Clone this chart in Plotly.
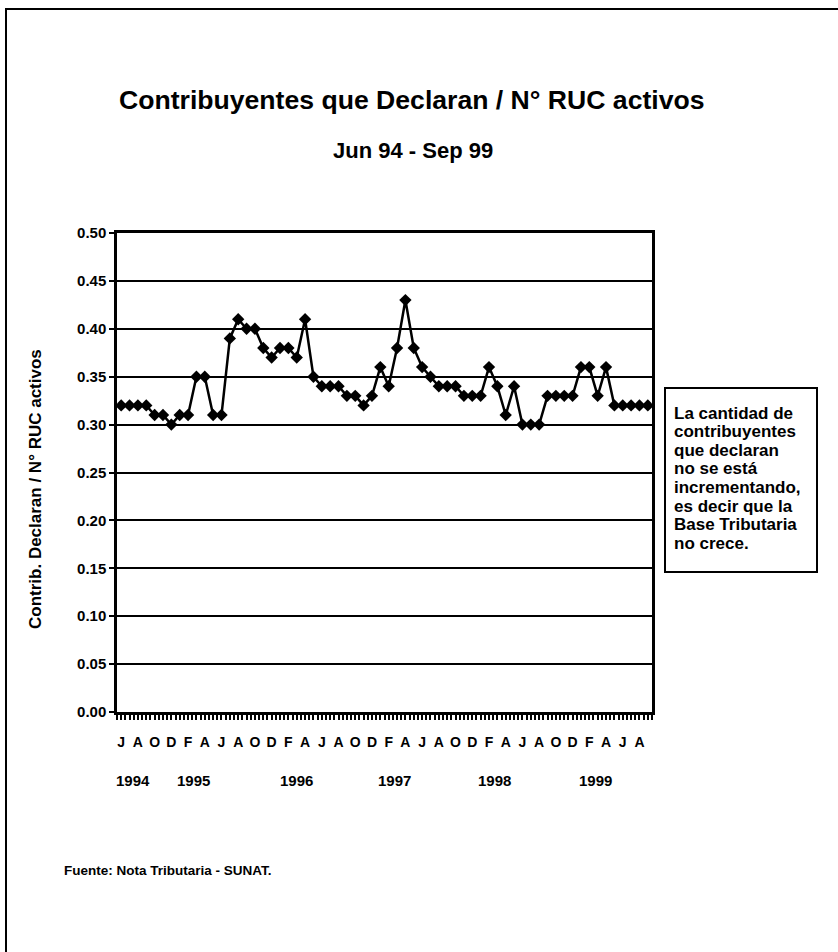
import plotly.graph_objects as go

W, H = 838, 952
# plot area in pixels
L, R, T, B = 117, 652, 233, 712

month_letters = ["J", "A", "O", "D",
                 "F", "A", "J", "A", "O", "D",
                 "F", "A", "J", "A", "O", "D",
                 "F", "A", "J", "A", "O", "D",
                 "F", "A", "J", "A", "O", "D",
                 "F", "A", "J", "A"]

values = [0.32, 0.32, 0.32, 0.32, 0.31, 0.31, 0.30, 0.31, 0.31, 0.35,
          0.35, 0.31, 0.31, 0.39, 0.41, 0.40, 0.40, 0.38, 0.37, 0.38,
          0.38, 0.37, 0.41, 0.35, 0.34, 0.34, 0.34, 0.33, 0.33, 0.32,
          0.33, 0.36, 0.34, 0.38, 0.43, 0.38, 0.36, 0.35, 0.34, 0.34,
          0.34, 0.33, 0.33, 0.33, 0.36, 0.34, 0.31, 0.34, 0.30, 0.30,
          0.30, 0.33, 0.33, 0.33, 0.33, 0.36, 0.36, 0.33, 0.36, 0.32,
          0.32, 0.32, 0.32, 0.32]

years = ["1994", "1995", "1996", "1997", "1998", "1999"]
year_pos = [1.4, 8.6, 21.0, 32.7, 44.7, 56.7]

box_lines = ["La cantidad de", "contribuyentes", "que declaran", "no se está",
             "incrementando,", "es decir que la", "Base Tributaria", "no crece."]

x_idx = list(range(len(values)))
label_idx = list(range(0, len(values), 2))

FONT = "Liberation Sans, Arial, sans-serif"


def px(xp):
    return (xp - L) / (R - L)


def py(yp):
    return (B - yp) / (B - T)


fig = go.Figure()
fig.add_trace(go.Scatter(
    x=x_idx, y=values, mode="lines+markers",
    line=dict(color="black", width=2.5),
    marker=dict(symbol="diamond", size=9.5, color="black"),
    showlegend=False, hoverinfo="skip",
))

fig.update_layout(
    width=W, height=H,
    margin=dict(l=L, r=W - R, t=T, b=H - B),
    paper_bgcolor="white", plot_bgcolor="white",
    font=dict(family=FONT, color="black"),
    xaxis=dict(
        range=[-0.5, len(values) - 0.5],
        tickmode="array", tickvals=label_idx, ticktext=month_letters,
        ticks="outside", ticklen=5, tickwidth=1.5, tickcolor="black",
        tickfont=dict(family=FONT, size=14, color="black", weight="bold"),
        ticklabelstandoff=10,
        minor=dict(tick0=-0.5, dtick=0.5, ticks="outside", ticklen=5,
                   tickwidth=1.5, tickcolor="black", showgrid=False),
        showgrid=False, zeroline=False,
        showline=True, linecolor="black", linewidth=2.5, mirror=True,
        fixedrange=True,
    ),
    yaxis=dict(
        range=[0, 0.5], dtick=0.05, tickformat=".2f",
        ticks="outside", ticklen=5, tickwidth=1.5, tickcolor="black",
        tickfont=dict(family=FONT, size=15, color="black", weight="bold"),
        ticklabelstandoff=0,
        showgrid=True, gridcolor="black", gridwidth=2,
        zeroline=False,
        showline=True, linecolor="black", linewidth=2.5, mirror=True,
        fixedrange=True,
    ),
)

ann = []
ann.append(dict(text="<b>Contribuyentes que Declaran / N° RUC activos</b>",
                x=px(412), y=py(100), xref="paper", yref="paper",
                xanchor="center", yanchor="middle", showarrow=False,
                font=dict(family=FONT, size=26.6, color="black")))
ann.append(dict(text="<b>Jun 94 - Sep 99</b>",
                x=px(413), y=py(150), xref="paper", yref="paper",
                xanchor="center", yanchor="middle", showarrow=False,
                font=dict(family=FONT, size=22, color="black")))
ann.append(dict(text="<b>Contrib. Declaran / N° RUC activos</b>",
                x=px(35), y=py(489), xref="paper", yref="paper",
                xanchor="center", yanchor="middle", showarrow=False,
                textangle=-90,
                font=dict(family=FONT, size=17, color="black")))
for yr, pos in zip(years, year_pos):
    ann.append(dict(text="<b>%s</b>" % yr, x=pos, y=py(780),
                    xref="x", yref="paper", xanchor="center", yanchor="middle",
                    showarrow=False, font=dict(family=FONT, size=15, color="black")))
ann.append(dict(text="<b>Fuente: Nota Tributaria - SUNAT.</b>",
                x=px(62), y=py(870), xref="paper", yref="paper",
                xanchor="left", yanchor="middle", showarrow=False,
                font=dict(family=FONT, size=13.5, color="black")))
for i, line in enumerate(box_lines):
    ann.append(dict(text="<b>%s</b>" % line,
                    x=px(672), y=py(413 + 18.6 * i), xref="paper", yref="paper",
                    xanchor="left", yanchor="middle", align="left", showarrow=False,
                    font=dict(family=FONT, size=17, color="black")))
fig.update_layout(annotations=ann)

fig.update_layout(shapes=[
    dict(type="rect", xref="paper", yref="paper",
         x0=px(665), x1=px(817), y0=py(388), y1=py(572),
         line=dict(color="black", width=2), fillcolor="rgba(0,0,0,0)"),
    dict(type="rect", xref="paper", yref="paper",
         x0=px(6), x1=px(900), y0=py(9), y1=py(1000),
         line=dict(color="black", width=2), fillcolor="rgba(0,0,0,0)"),
])

fig.write_html("out.html", config={"displayModeBar": False})
